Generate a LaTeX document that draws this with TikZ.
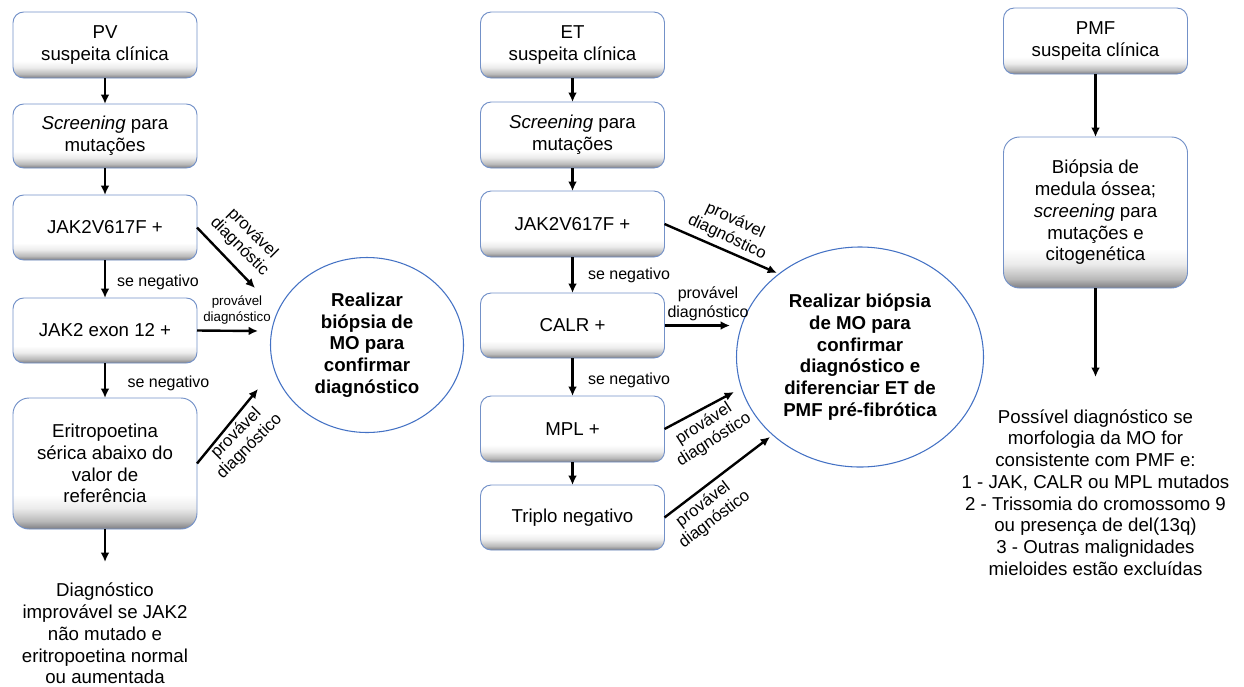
\documentclass[tikz,border=0pt]{standalone}
\usepackage{fontspec}
\setmainfont{Liberation Sans}
\usetikzlibrary{arrows.meta,shapes.geometric}
\definecolor{boxline}{RGB}{115,145,200}
\definecolor{ringline}{RGB}{68,114,196}
\definecolor{boxgray}{RGB}{125,125,130}
\pgfdeclareverticalshading{boxshade}{100bp}{color(0bp)=(boxgray); color(25bp)=(boxgray); color(28bp)=(gray!55); color(33bp)=(gray!15); color(38bp)=(white); color(100bp)=(white)}
\tikzstyle{mybox}=[
    draw=boxline, line width=0.7pt,
    rounded corners=8pt,
    shading=boxshade,
    minimum width=138pt,
    align=center, inner sep=2pt, outer sep=0pt,
    font=\fontsize{14}{16.3}\selectfont,
]
\tikzstyle{myring}=[
    ellipse, draw=ringline, line width=0.8pt,
    inner sep=0pt, outer sep=0pt,
    align=center,
    font=\fontsize{14}{16.3}\selectfont\bfseries,
]
\tikzstyle{mytext}=[align=center, inner sep=0pt, font=\fontsize{14}{16.3}\selectfont]
\tikzstyle{mysmall}=[align=center, inner sep=0pt, font=\fontsize{12}{14}\selectfont]
\tikzstyle{mytiny}=[align=center, inner sep=0pt, font=\fontsize{10}{11.5}\selectfont]
\tikzstyle{mytilt}=[align=center, inner sep=0pt, font=\fontsize{12.5}{14}\selectfont]
\tikzstyle{myarrow}=[->, >={Latex[length=7pt,width=6.5pt]}, line width=1.8pt]

\begin{document}
\begin{tikzpicture}[x=0.75pt, y=-0.75pt]
        \useasboundingbox (0,0) rectangle (1244,686);
        \node (pv) at (105,45) [mybox, minimum height=49.5pt] {PV\\suspeita clínica};
        \node (scr1) at (105,136) [mybox, minimum height=48pt] {\textit{Screening} para\\mutações};
        \node (jak1) at (105,227.5) [mybox, minimum height=48.75pt] {JAK2V617F +};
        \node (exon) at (105,330.5) [mybox, minimum height=48.75pt] {JAK2 exon 12 +};
        \node (epo) at (105,463.5) [mybox, rounded corners=12pt, minimum height=98.25pt] {Eritropoetina\\sérica abaixo do\\valor de\\referência};
        \coordinate (end1) at (105,562);
        \node (out1) at (105,633.5) [mytext] {Diagnóstico\\improvável se JAK2\\não mutado e\\eritropoetina normal\\ou aumentada};
        \node (ring1) at (367,345) [myring, minimum width=144.75pt, minimum height=131.25pt] {Realizar\\biópsia de\\MO para\\confirmar\\diagnóstico};
        \coordinate (p1) at (255,288);
        \coordinate (p2) at (258,331);
        \coordinate (p3) at (258,389);
        \draw[myarrow] (pv) -- (scr1);
        \draw[myarrow] (scr1) -- (jak1);
        \draw[myarrow] (jak1) -- (exon);
        \draw[myarrow] (exon) -- (epo);
        \draw[myarrow] (epo) -- (end1);
        \draw[myarrow] (jak1.east) -- (p1);
        \draw[myarrow] (exon.east) -- (p2);
        \draw[myarrow] (epo.east) -- (p3);
        \node (neg1) at (158,282) [mysmall] {se negativo};
        \node (neg2) at (168.5,383) [mysmall] {se negativo};
        \node (lab1) at (246,240) [mytilt, rotate=-45] {provável\\diagnóstic};
        \node (lab2) at (237,310) [mytiny] {provável\\diagnóstico};
        \node (lab3) at (243,440) [mytilt, rotate=45] {provável\\diagnóstico};

        \node (et) at (572.5,45) [mybox, minimum height=49.5pt] {ET\\suspeita clínica};
        \node (scr2) at (572.5,135) [mybox, minimum height=49.5pt] {\textit{Screening} para\\mutações};
        \node (jak2) at (572.5,224) [mybox, minimum height=49.5pt] {JAK2V617F +};
        \node (calr) at (572.5,325.5) [mybox, minimum height=48.75pt] {CALR +};
        \node (mpl) at (572.5,429) [mybox, minimum height=49.5pt] {MPL +};
        \node (tri) at (572.5,517.5) [mybox, minimum height=48.75pt] {Triplo negativo};
        \node (ring2) at (860,357) [myring, minimum width=185.25pt, minimum height=165pt] {Realizar biópsia\\de MO para\\confirmar\\diagnóstico e\\diferenciar ET de\\PMF pré-fibrótica};
        \coordinate (q1) at (777,273);
        \coordinate (q2) at (730,325.5);
        \coordinate (q3) at (734,392);
        \coordinate (q4) at (770,437);
        \draw[myarrow] (et) -- (scr2);
        \draw[myarrow] (scr2) -- (jak2);
        \draw[myarrow] (jak2) -- (calr);
        \draw[myarrow] (calr) -- (mpl);
        \draw[myarrow] (mpl) -- (tri);
        \draw[myarrow] (jak2.east) -- (q1);
        \draw[myarrow] (calr.east) -- (q2);
        \draw[myarrow] (mpl.east) -- (q3);
        \draw[myarrow] (tri.east) -- (q4);
        \node (neg3) at (629,275) [mysmall] {se negativo};
        \node (neg4) at (629,380) [mysmall] {se negativo};
        \node (lab4) at (731,229) [mytilt, rotate=-25.5] {provável\\diagnóstico};
        \node (lab5) at (708,304) [mysmall] {provável\\diagnóstico};
        \node (lab6) at (709,432) [mytilt, rotate=32.7] {provável\\diagnóstico};
        \node (lab7) at (709,512) [mytilt, rotate=37.3] {provável\\diagnóstico};

        \node (pmf) at (1095.5,41) [mybox, minimum height=49.5pt] {PMF\\suspeita clínica};
        \node (bmo) at (1095.5,212.5) [mybox, rounded corners=12pt, minimum height=113.25pt] {Biópsia de\\medula óssea;\\\textit{screening} para\\mutações e\\citogenética};
        \coordinate (end3) at (1095.5,377);
        \node (out3) at (1095.5,492.5) [mytext] {Possível diagnóstico se\\morfologia da MO for\\consistente com PMF e:\\1 - JAK, CALR ou MPL mutados\\2 - Trissomia do cromossomo 9\\ou presença de del(13q)\\3 - Outras malignidades\\mieloides estão excluídas};
        \draw[myarrow] (pmf) -- (bmo);
        \draw[myarrow] (bmo) -- (end3);
\end{tikzpicture}
\end{document}
